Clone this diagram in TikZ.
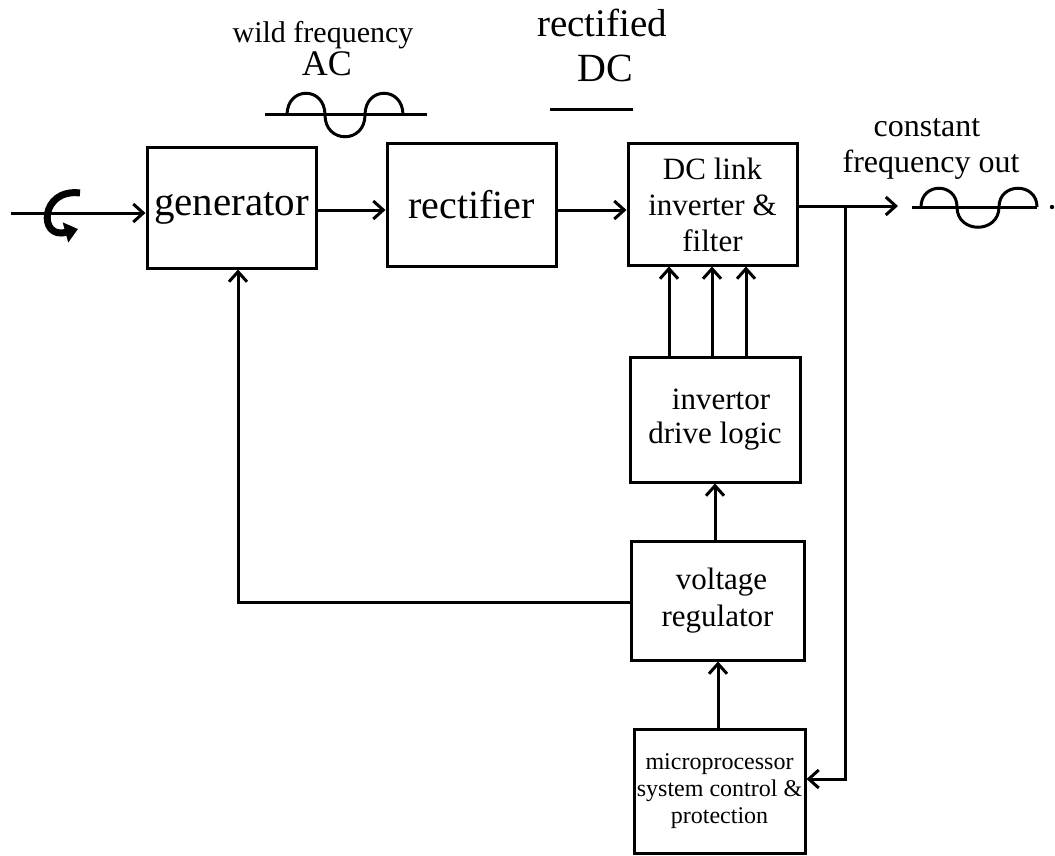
\documentclass[tikz,border=0pt]{standalone}
\usepackage{fontspec}
\setmainfont{Liberation Serif}
\usetikzlibrary{arrows.meta}
\newcommand{\fs}[2]{\fontsize{#1}{#2}\selectfont}
\tikzset{
  box/.style={draw, line width=3pt, inner sep=0pt, align=center},
  wire/.style={line width=3pt},
  arr/.style={line width=3pt, -{Straight Barb[length=10pt,width=18pt,line width=3pt]}},
  wave/.style={line width=3pt},
  lbl/.style={inner sep=0pt, anchor=base}
}
\begin{document}
\begin{tikzpicture}[x=1pt,y=-1pt]
\useasboundingbox (0,0) rectangle (1055,856);
% boxes
\node[box, minimum width=169pt, minimum height=120pt, font=\fs{41}{44}] (gen) at (231.5,208) {generator};
\node[box, minimum width=169pt, minimum height=122pt, font=\fs{40}{44}] (rect) at (471.5,205) {rectifier};
\node[box, minimum width=169pt, minimum height=121pt, font=\fs{31}{36}] (dc) at (712.5,204.5) {DC link\\inverter \&\\filter};
\node[box, minimum width=170pt, minimum height=125pt, font=\fs{31}{34}] (inv) at (715,419.5) {\hspace*{12pt}invertor\\drive logic};
\node[box, minimum width=173pt, minimum height=119pt, font=\fs{31}{37}] (vr) at (717.5,600.5) {\hspace*{8pt}voltage\\regulator};
\node[box, minimum width=171pt, minimum height=124pt, font=\fs{24}{27}] (micro) at (719.5,791) {microprocessor\\system control \&\\protection};
% labels
\node[lbl, font=\fs{30}{34}] (wf) at (323,43) {wild frequency};
\node[lbl, font=\fs{36}{40}] (ac) at (327,76) {AC};
\node[lbl, font=\fs{39}{44}] (rf) at (602,37) {rectified};
\node[lbl, font=\fs{40}{44}] (dclbl) at (605,82) {DC};
\node[lbl, font=\fs{32}{36}] (cst) at (927,137) {constant};
\node[lbl, font=\fs{32}{36}] (fo) at (931,172) {frequency out};
% coordinates
\coordinate (in) at (11,213);
\coordinate (outtip) at (898,206);
\coordinate (j) at (845,206);
\coordinate (jb) at (845,779);
% connectors
\draw[arr] (in) -- (in -| gen.west);
\draw[arr] (gen.east |- 0,210) -- (rect.west |- 0,210);
\draw[arr] (rect.east |- 0,210) -- (dc.west |- 0,210);
\draw[arr] (dc.east |- j) -- (outtip);
\draw[arr] (j) -- (jb) -- (jb -| micro.east);
\draw[arr] (inv.north -| 669,0) -- (dc.south -| 669,0);
\draw[arr] (inv.north -| 712,0) -- (dc.south -| 712,0);
\draw[arr] (inv.north -| 746,0) -- (dc.south -| 746,0);
\draw[arr] (vr.north -| 715,0) -- (inv.south -| 715,0);
\draw[arr] (micro.north -| 718,0) -- (vr.south -| 718,0);
\draw[arr] (vr.west |- 0,602) -| (gen.south -| 238,0);
% rotation symbol
\draw[line width=7pt, -{Triangle[length=13pt,width=20pt]}] (80,193) .. controls (40,188) and (38,240) .. (78,229);
% wild frequency AC wave
\draw[wave] (265,115) -- (427,115);
\draw[wave] (287,115) .. controls (287,86) and (325,86) .. (325,115)
  .. controls (325,144) and (365,144) .. (365,115)
  .. controls (365,86) and (403,86) .. (403,115);
% rectified DC line
\draw[wave] (550,110) -- (633,110);
% constant frequency wave
\draw[wave] (912,207) -- (1037,207);
\draw[wave] (921,207) .. controls (921,182) and (957,182) .. (957,207)
  .. controls (957,234) and (999,234) .. (999,207)
  .. controls (999,182) and (1037,182) .. (1037,207);
\fill (1052,207) circle (2.2pt);
\end{tikzpicture}
\end{document}
